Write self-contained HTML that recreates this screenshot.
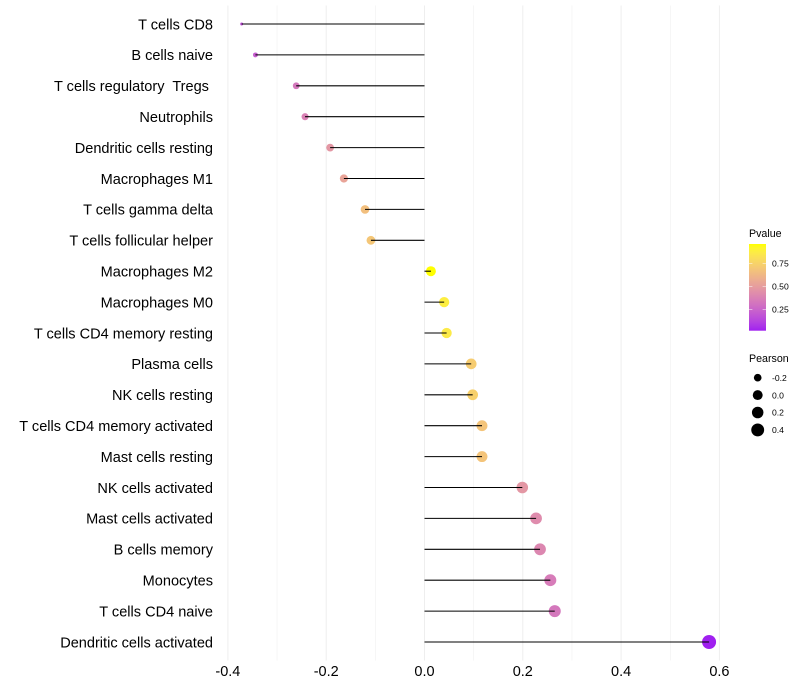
<!DOCTYPE html>
<html>
<head>
<meta charset="utf-8">
<title>Immune cell correlation lollipop chart</title>
<style>
html,body{margin:0;padding:0;background:#fff;}
svg{display:block;font-family:"Liberation Sans",sans-serif;}
text{white-space:pre;}
</style>
</head>
<body>
<svg id="chart" width="800" height="700" viewBox="0 0 800 700" xmlns="http://www.w3.org/2000/svg"></svg>
<script>
const categories = ["T cells CD8","B cells naive","T cells regulatory  Tregs ","Neutrophils","Dendritic cells resting","Macrophages M1","T cells gamma delta","T cells follicular helper","Macrophages M2","Macrophages M0","T cells CD4 memory resting","Plasma cells","NK cells resting","T cells CD4 memory activated","Mast cells resting","NK cells activated","Mast cells activated","B cells memory","Monocytes","T cells CD4 naive","Dendritic cells activated"];
const pearson = [-0.372,-0.344,-0.261,-0.243,-0.192,-0.164,-0.121,-0.109,0.013,0.04,0.045,0.095,0.098,0.117,0.117,0.199,0.227,0.235,0.256,0.265,0.579];
const pvalue = [0.17,0.22,0.33,0.37,0.47,0.53,0.66,0.69,0.96,0.88,0.86,0.72,0.74,0.68,0.68,0.47,0.42,0.4,0.35,0.33,0.0174];
const xTicks = [-0.4,-0.2,0,0.2,0.4,0.6];
const xTickLabels = ["-0.4","-0.2","0.0","0.2","0.4","0.6"];
const xMinorTicks = [-0.3,-0.1,0.1,0.3,0.5];
const pTicks = [0.25,0.5,0.75];
const pTickLabels = ["0.25","0.50","0.75"];
const sizeLegendValues = [-0.2,0,0.2,0.4];
const sizeLegendLabels = ["-0.2","0.0","0.2","0.4"];

const svgNS = "http://www.w3.org/2000/svg";
const chart = document.getElementById("chart");
function make(tag, attrs, text) {
  const el = document.createElementNS(svgNS, tag);
  for (const k in attrs) el.setAttribute(k, attrs[k]);
  if (text !== undefined) el.textContent = text;
  chart.appendChild(el);
  return el;
}

/* axis functions */
function xPos(v) { return 424.5 + v * 491.5; }
function yPos(i) { return 24 + i * (618 / (categories.length - 1)); }
const panelTop = 5.5, panelBottom = 660.5;

/* size scale (area) */
const pearsonMin = Math.min.apply(null, pearson);
const pearsonMax = Math.max.apply(null, pearson);
function radius(v) {
  const t = (v - pearsonMin) / (pearsonMax - pearsonMin);
  return (3 + 11 * Math.sqrt(Math.max(0, t))) / 2;
}

/* colour scale: purple -> yellow in Lab */
function srgbToLab(c) {
  const l = c.map(function (u) { u /= 255; return u <= 0.04045 ? u / 12.92 : Math.pow((u + 0.055) / 1.055, 2.4); });
  const X = (0.4124 * l[0] + 0.3576 * l[1] + 0.1805 * l[2]) / 0.95047;
  const Y = 0.2126 * l[0] + 0.7152 * l[1] + 0.0722 * l[2];
  const Z = (0.0193 * l[0] + 0.1192 * l[1] + 0.9505 * l[2]) / 1.08883;
  const f = function (t) { return t > 0.008856 ? Math.cbrt(t) : 7.787 * t + 16 / 116; };
  return [116 * f(Y) - 16, 500 * (f(X) - f(Y)), 200 * (f(Y) - f(Z))];
}
function labToCss(lab) {
  const fy = (lab[0] + 16) / 116, fx = fy + lab[1] / 500, fz = fy - lab[2] / 200;
  const g = function (t) { return t * t * t > 0.008856 ? t * t * t : (t - 16 / 116) / 7.787; };
  const X = g(fx) * 0.95047, Y = g(fy), Z = g(fz) * 1.08883;
  const rgb = [3.2406 * X - 1.5372 * Y - 0.4986 * Z, -0.9689 * X + 1.8758 * Y + 0.0415 * Z, 0.0557 * X - 0.204 * Y + 1.057 * Z];
  const out = rgb.map(function (u) {
    u = Math.min(1, Math.max(0, u));
    u = u <= 0.0031308 ? 12.92 * u : 1.055 * Math.pow(u, 1 / 2.4) - 0.055;
    return Math.round(u * 255);
  });
  return "rgb(" + out.join(",") + ")";
}
const labLow = srgbToLab([160, 32, 240]);
const labHigh = srgbToLab([255, 255, 0]);
const pMin = Math.min.apply(null, pvalue);
const pMax = Math.max.apply(null, pvalue);
function colorAt(t) {
  return labToCss([0, 1, 2].map(function (k) { return labLow[k] + (labHigh[k] - labLow[k]) * t; }));
}
function pColor(p) { return colorAt((p - pMin) / (pMax - pMin)); }

/* grid */
xMinorTicks.forEach(function (v) {
  const el = make("line", {x1: xPos(v), x2: xPos(v), y1: panelTop, y2: panelBottom, stroke: "#eeeeee", "stroke-width": 0.55});
  
  
});
xTicks.forEach(function (v, i) {
  const el = make("line", {x1: xPos(v), x2: xPos(v), y1: panelTop, y2: panelBottom, stroke: "#eeeeee", "stroke-width": 1});
  
  
  const lab = make("text", {x: xPos(v), y: 676, "text-anchor": "middle", "font-size": 14.5, fill: "#000"}, xTickLabels[i]);
  
  
});

/* points, stems, labels */
categories.forEach(function (name, i) {
  const y = yPos(i);
  const lab = make("text", {x: 213, y: y + 5.3, "text-anchor": "end", "font-size": 14.55, fill: "#000"}, name);
  
  
  const dot = make("circle", {cx: xPos(pearson[i]), cy: y, r: radius(pearson[i]), fill: pColor(pvalue[i])});
  
  
  const stem = make("line", {x1: xPos(0), x2: xPos(pearson[i]), y1: y, y2: y, stroke: "#000", "stroke-width": 1.07});
  
  
});

/* Pvalue colour legend */
const pTitle = make("text", {x: 749, y: 237, "font-size": 10.67, fill: "#000"}, "Pvalue");


const defs = make("defs", {});
const grad = document.createElementNS(svgNS, "linearGradient");
grad.setAttribute("id", "pgrad");
grad.setAttribute("x1", "0"); grad.setAttribute("x2", "0");
grad.setAttribute("y1", "1"); grad.setAttribute("y2", "0");
for (let s = 0; s <= 20; s++) {
  const st = document.createElementNS(svgNS, "stop");
  st.setAttribute("offset", s / 20);
  st.setAttribute("stop-color", colorAt(s / 20));
  grad.appendChild(st);
}
defs.appendChild(grad);
const barTop = 244, barBottom = 330.7, barLeft = 749, barRight = 766;
function barY(p) { return barBottom - (p - pMin) / (pMax - pMin) * (barBottom - barTop); }
const bar = make("rect", {x: barLeft, y: barTop, width: barRight - barLeft, height: barBottom - barTop, fill: "url(#pgrad)"});


pTicks.forEach(function (p, i) {
  const y = barY(p);
  const t1 = make("line", {x1: barLeft, x2: barLeft + 3.4, y1: y, y2: y, stroke: "#fff", "stroke-width": 0.5});
  
  
  const t2 = make("line", {x1: barRight - 3.4, x2: barRight, y1: y, y2: y, stroke: "#fff", "stroke-width": 0.5});
  
  
  const lab = make("text", {x: 772, y: y + 3.2, "font-size": 8.6, fill: "#000"}, pTickLabels[i]);
  
  
});

/* Pearson size legend */
const sTitle = make("text", {x: 749, y: 362, "font-size": 10.67, fill: "#000"}, "Pearson");


sizeLegendValues.forEach(function (v, i) {
  const y = 377.7 + i * 17.4;
  const key = make("circle", {cx: 757.7, cy: y, r: radius(v), fill: "#000"});
  
  
  const lab = make("text", {x: 772, y: y + 3.2, "font-size": 8.6, fill: "#000"}, sizeLegendLabels[i]);
  
  
});
</script>
</body>
</html>
